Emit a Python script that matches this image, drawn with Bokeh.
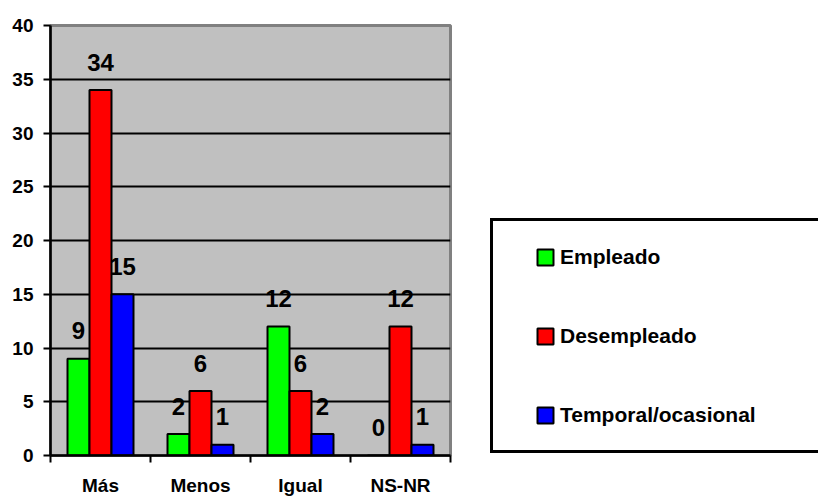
from bokeh.plotting import figure
from bokeh.layouts import row
from bokeh.models import (ColumnDataSource, FixedTicker, Legend, LegendItem,
                          Range1d)
from bokeh.core.properties import value
from bokeh.embed import file_html
from bokeh.resources import INLINE

# ---- data ----
categories = ["Más", "Menos", "Igual", "NS-NR"]
series_names = ["Empleado", "Desempleado", "Temporal/ocasional"]
empleado = [9, 2, 12, 0]
desempleado = [34, 6, 6, 12]
temporal = [15, 1, 2, 1]
y_ticks = [0, 5, 10, 15, 20, 25, 30, 35, 40]

colors = ["#00FF00", "#FF0000", "#0000FF"]
offsets = [-0.22, 0.0, 0.22]
bar_w = 0.22
FONT = value("Liberation Sans")

p = figure(width=480, height=498, output_backend="svg", toolbar_location=None,
           x_range=Range1d(0, len(categories)), y_range=Range1d(0, 40),
           min_border_left=50, min_border_right=30, min_border_top=25,
           min_border_bottom=42)

p.background_fill_color = "#C0C0C0"
p.border_fill_color = "white"
p.outline_line_color = "#808080"
p.outline_line_width = 3

# grid
p.xgrid.visible = False
p.ygrid.ticker = FixedTicker(ticks=y_ticks[1:-1])
p.ygrid.grid_line_color = "black"
p.ygrid.grid_line_width = 2

# axes
p.yaxis.ticker = FixedTicker(ticks=y_ticks)
p.yaxis.major_tick_out = 7
p.yaxis.major_tick_in = 0
p.yaxis.minor_tick_line_color = None
p.yaxis.axis_line_width = 2.5
p.yaxis.major_tick_line_width = 2
p.yaxis.major_label_standoff = 10
p.yaxis.major_label_text_font = "Liberation Sans"
p.yaxis.major_label_text_font_style = "bold"
p.yaxis.major_label_text_font_size = "19px"
p.yaxis.major_label_text_color = "black"

centers = [i + 0.5 for i in range(len(categories))]
p.xaxis.ticker = FixedTicker(ticks=centers,
                             minor_ticks=list(range(len(categories) + 1)))
p.xaxis.major_label_overrides = {c: lab for c, lab in zip(centers, categories)}
p.xaxis.major_tick_out = 0
p.xaxis.major_tick_in = 0
p.xaxis.minor_tick_out = 7
p.xaxis.minor_tick_in = 0
p.xaxis.minor_tick_line_width = 2
p.xaxis.axis_line_width = 2.5
p.xaxis.major_label_standoff = 12
p.xaxis.major_label_text_font = "Liberation Sans"
p.xaxis.major_label_text_font_style = "bold"
p.xaxis.major_label_text_font_size = "19px"
p.xaxis.major_label_text_color = "black"

for vals, col, off in zip([empleado, desempleado, temporal], colors, offsets):
    src = ColumnDataSource(dict(x=[c + off for c in centers], top=vals,
                                lab=[str(v) for v in vals]))
    p.vbar(x="x", top="top", width=bar_w, source=src, fill_color=col,
           line_color="black", line_width=2)
    p.text(x="x", y="top", text="lab", source=src, text_align="center",
           text_baseline="middle", y_offset=-28, text_font=FONT,
           text_font_style="bold", text_font_size="24px", text_color="black")

# ---- legend panel ----
q = figure(width=338, height=498, output_backend="svg", toolbar_location=None,
           x_range=Range1d(0, 1), y_range=Range1d(0, 1),
           min_border_left=0, min_border_right=0, min_border_top=0,
           min_border_bottom=0)
q.xaxis.visible = False
q.yaxis.visible = False
q.xgrid.visible = False
q.ygrid.visible = False
q.outline_line_color = None
q.background_fill_color = "white"
q.border_fill_color = "white"

# invisible renderer that gives the legend frame its size
box_r = q.vbar(x=[0.5], top=[0.5], width=0.1, fill_alpha=0, line_alpha=0)
box_r.visible = False

legend_rs = []
for col in colors:
    # hidden swatch renderer, used only to draw the legend entry
    r = q.vbar(x=[0.5], top=[0.5], width=0.1, fill_color=col,
               line_color="black", line_width=2)
    r.visible = False
    legend_rs.append(r)

legend_box = Legend(items=[LegendItem(label=" ", renderers=[box_r])],
                    location=(10, 2), padding=0, margin=0, spacing=0,
                    glyph_width=340, glyph_height=229, label_standoff=0,
                    label_text_font_size="2px", inactive_fill_alpha=0,
                    border_line_color="black", border_line_width=3,
                    border_line_alpha=1,
                    background_fill_color="white", background_fill_alpha=1)
q.add_layout(legend_box, "center")

legend = Legend(items=[LegendItem(label=n, renderers=[r])
                       for n, r in zip(series_names, legend_rs)],
                location=(55, 28), padding=0, margin=0, spacing=55,
                glyph_width=20, glyph_height=20, label_height=22,
                label_standoff=5,
                label_text_font="Liberation Sans",
                label_text_font_style="bold",
                label_text_font_size="21px",
                label_text_color="black",
                inactive_fill_alpha=0,
                border_line_color=None, background_fill_alpha=0)
q.add_layout(legend, "center")

layout = row(p, q)
open("out.html", "w").write(file_html(layout, INLINE))
